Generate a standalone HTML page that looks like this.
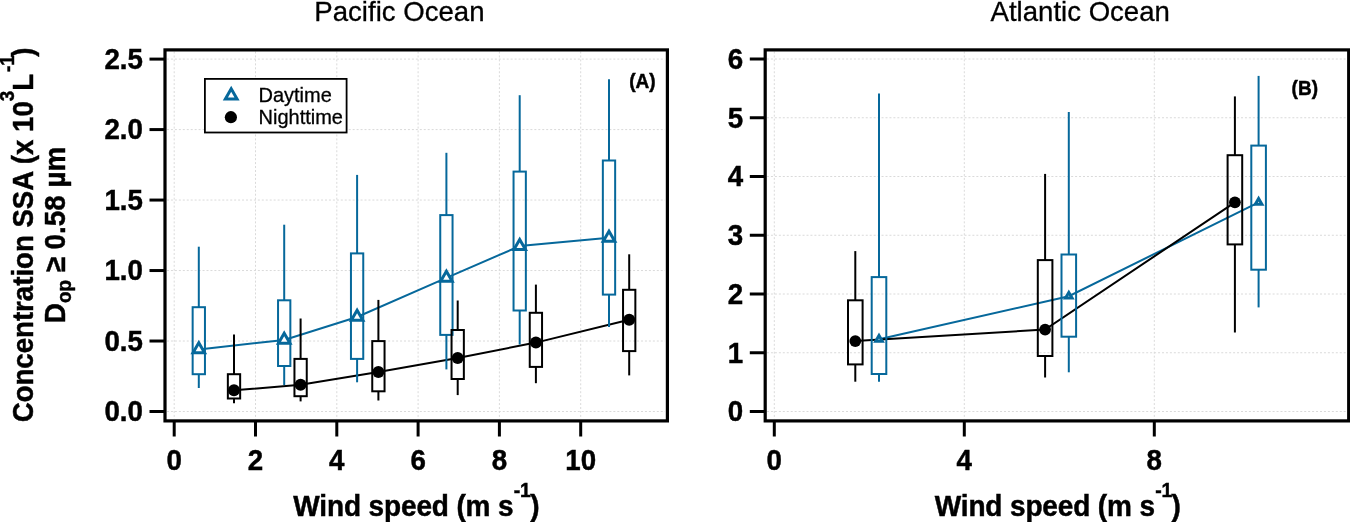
<!DOCTYPE html>
<html lang="en">
<head>
<meta charset="utf-8">
<title>Sea spray aerosol concentration vs wind speed</title>
<style>
html,body{margin:0;padding:0;background:#fff;}
body{width:1350px;height:522px;position:relative;overflow:hidden;font-family:"Liberation Sans",Arial,sans-serif;}
svg text{white-space:pre;}
</style>
</head>
<body>
<svg width="1350" height="522" viewBox="0 0 1350 522" style="display:block;position:absolute;left:0;top:0;will-change:transform">
<rect x="0" y="0" width="1350" height="522" fill="#fff"/>
<g stroke="#dadada" stroke-width="1" stroke-dasharray="2 1.95" fill="none"><line x1="174.2" y1="51.5" x2="174.2" y2="419"/><line x1="255.5" y1="51.5" x2="255.5" y2="419"/><line x1="336.8" y1="51.5" x2="336.8" y2="419"/><line x1="418.1" y1="51.5" x2="418.1" y2="419"/><line x1="499.4" y1="51.5" x2="499.4" y2="419"/><line x1="580.7" y1="51.5" x2="580.7" y2="419"/><line x1="167" y1="411.5" x2="665" y2="411.5"/><line x1="167" y1="341.02" x2="665" y2="341.02"/><line x1="167" y1="270.54" x2="665" y2="270.54"/><line x1="167" y1="200.06" x2="665" y2="200.06"/><line x1="167" y1="129.58" x2="665" y2="129.58"/><line x1="167" y1="59.1" x2="665" y2="59.1"/></g>
<polyline points="198.8,349.5 284.2,339.9 357.1,317 446.4,277.8 519.7,246.1 609,237.8" fill="none" stroke="#06689b" stroke-width="2.0"/>
<polyline points="234,390.3 300.6,384.75 378.4,372.1 457.7,357.9 535.9,342.6 629.2,319.7" fill="none" stroke="#000" stroke-width="2.0"/>
<line x1="198.8" y1="246.7" x2="198.8" y2="307.2" stroke="#06689b" stroke-width="2.0"/>
<line x1="198.8" y1="374.2" x2="198.8" y2="388" stroke="#06689b" stroke-width="2.0"/>
<rect x="192.65" y="307.2" width="12.3" height="67" fill="none" stroke="#06689b" stroke-width="2.0"/>
<line x1="284.2" y1="224.7" x2="284.2" y2="300.3" stroke="#06689b" stroke-width="2.0"/>
<line x1="284.2" y1="366" x2="284.2" y2="385.1" stroke="#06689b" stroke-width="2.0"/>
<rect x="278.05" y="300.3" width="12.3" height="65.7" fill="none" stroke="#06689b" stroke-width="2.0"/>
<line x1="357.1" y1="174.9" x2="357.1" y2="253.4" stroke="#06689b" stroke-width="2.0"/>
<line x1="357.1" y1="358.9" x2="357.1" y2="382.3" stroke="#06689b" stroke-width="2.0"/>
<rect x="350.95" y="253.4" width="12.3" height="105.5" fill="none" stroke="#06689b" stroke-width="2.0"/>
<line x1="446.4" y1="152.8" x2="446.4" y2="215.1" stroke="#06689b" stroke-width="2.0"/>
<line x1="446.4" y1="334.9" x2="446.4" y2="369.4" stroke="#06689b" stroke-width="2.0"/>
<rect x="440.25" y="215.1" width="12.3" height="119.8" fill="none" stroke="#06689b" stroke-width="2.0"/>
<line x1="519.7" y1="95.2" x2="519.7" y2="171.6" stroke="#06689b" stroke-width="2.0"/>
<line x1="519.7" y1="310.5" x2="519.7" y2="344.5" stroke="#06689b" stroke-width="2.0"/>
<rect x="513.55" y="171.6" width="12.3" height="138.9" fill="none" stroke="#06689b" stroke-width="2.0"/>
<line x1="609" y1="79.3" x2="609" y2="160.5" stroke="#06689b" stroke-width="2.0"/>
<line x1="609" y1="294.6" x2="609" y2="327.1" stroke="#06689b" stroke-width="2.0"/>
<rect x="602.85" y="160.5" width="12.3" height="134.1" fill="none" stroke="#06689b" stroke-width="2.0"/>
<line x1="234" y1="334.4" x2="234" y2="374.2" stroke="#000" stroke-width="2.0"/>
<line x1="234" y1="398.5" x2="234" y2="403.3" stroke="#000" stroke-width="2.0"/>
<rect x="227.85" y="374.2" width="12.3" height="24.3" fill="none" stroke="#000" stroke-width="2.0"/>
<line x1="300.6" y1="318.5" x2="300.6" y2="358.9" stroke="#000" stroke-width="2.0"/>
<line x1="300.6" y1="396.2" x2="300.6" y2="401.4" stroke="#000" stroke-width="2.0"/>
<rect x="294.45" y="358.9" width="12.3" height="37.3" fill="none" stroke="#000" stroke-width="2.0"/>
<line x1="378.4" y1="299.9" x2="378.4" y2="341.1" stroke="#000" stroke-width="2.0"/>
<line x1="378.4" y1="391.3" x2="378.4" y2="400.5" stroke="#000" stroke-width="2.0"/>
<rect x="372.25" y="341.1" width="12.3" height="50.2" fill="none" stroke="#000" stroke-width="2.0"/>
<line x1="457.7" y1="300.5" x2="457.7" y2="330" stroke="#000" stroke-width="2.0"/>
<line x1="457.7" y1="379" x2="457.7" y2="395.1" stroke="#000" stroke-width="2.0"/>
<rect x="451.55" y="330" width="12.3" height="49" fill="none" stroke="#000" stroke-width="2.0"/>
<line x1="535.9" y1="284.6" x2="535.9" y2="312.8" stroke="#000" stroke-width="2.0"/>
<line x1="535.9" y1="366.9" x2="535.9" y2="383.2" stroke="#000" stroke-width="2.0"/>
<rect x="529.75" y="312.8" width="12.3" height="54.1" fill="none" stroke="#000" stroke-width="2.0"/>
<line x1="629.2" y1="254.3" x2="629.2" y2="289.8" stroke="#000" stroke-width="2.0"/>
<line x1="629.2" y1="351.1" x2="629.2" y2="375.4" stroke="#000" stroke-width="2.0"/>
<rect x="623.05" y="289.8" width="12.3" height="61.3" fill="none" stroke="#000" stroke-width="2.0"/>
<polygon points="198.8,342.83 193.03,352.83 204.57,352.83" fill="#fff" stroke="#06689b" stroke-width="3.0" stroke-linejoin="miter"/>
<polygon points="284.2,333.23 278.43,343.23 289.97,343.23" fill="#fff" stroke="#06689b" stroke-width="3.0" stroke-linejoin="miter"/>
<polygon points="357.1,310.33 351.33,320.33 362.87,320.33" fill="#fff" stroke="#06689b" stroke-width="3.0" stroke-linejoin="miter"/>
<polygon points="446.4,271.13 440.63,281.13 452.17,281.13" fill="#fff" stroke="#06689b" stroke-width="3.0" stroke-linejoin="miter"/>
<polygon points="519.7,239.43 513.93,249.43 525.47,249.43" fill="#fff" stroke="#06689b" stroke-width="3.0" stroke-linejoin="miter"/>
<polygon points="609,231.13 603.23,241.13 614.77,241.13" fill="#fff" stroke="#06689b" stroke-width="3.0" stroke-linejoin="miter"/>
<circle cx="234" cy="390.3" r="6" fill="#000"/>
<circle cx="300.6" cy="384.75" r="6" fill="#000"/>
<circle cx="378.4" cy="372.1" r="6" fill="#000"/>
<circle cx="457.7" cy="357.9" r="6" fill="#000"/>
<circle cx="535.9" cy="342.6" r="6" fill="#000"/>
<circle cx="629.2" cy="319.7" r="6" fill="#000"/>
<rect x="165.0" y="49.9" width="502.4" height="371" fill="none" stroke="#000" stroke-width="3.2"/>
<g stroke="#000" stroke-width="3"><line x1="149.5" y1="411.5" x2="164.5" y2="411.5"/><line x1="149.5" y1="341.02" x2="164.5" y2="341.02"/><line x1="149.5" y1="270.54" x2="164.5" y2="270.54"/><line x1="149.5" y1="200.06" x2="164.5" y2="200.06"/><line x1="149.5" y1="129.58" x2="164.5" y2="129.58"/><line x1="149.5" y1="59.1" x2="164.5" y2="59.1"/><line x1="174.2" y1="421" x2="174.2" y2="436.5"/><line x1="255.5" y1="421" x2="255.5" y2="436.5"/><line x1="336.8" y1="421" x2="336.8" y2="436.5"/><line x1="418.1" y1="421" x2="418.1" y2="436.5"/><line x1="499.4" y1="421" x2="499.4" y2="436.5"/><line x1="580.7" y1="421" x2="580.7" y2="436.5"/></g>
<text transform="translate(142.9 421.4) scale(0.99 1.04)" text-anchor="end" font-family="'Liberation Sans', Arial, sans-serif" font-weight="700" font-size="28" fill="#000" stroke="#000" stroke-width="0.45">0.0</text>
<text transform="translate(142.9 350.92) scale(0.99 1.04)" text-anchor="end" font-family="'Liberation Sans', Arial, sans-serif" font-weight="700" font-size="28" fill="#000" stroke="#000" stroke-width="0.45">0.5</text>
<text transform="translate(142.9 280.44) scale(0.99 1.04)" text-anchor="end" font-family="'Liberation Sans', Arial, sans-serif" font-weight="700" font-size="28" fill="#000" stroke="#000" stroke-width="0.45">1.0</text>
<text transform="translate(142.9 209.96) scale(0.99 1.04)" text-anchor="end" font-family="'Liberation Sans', Arial, sans-serif" font-weight="700" font-size="28" fill="#000" stroke="#000" stroke-width="0.45">1.5</text>
<text transform="translate(142.9 139.48) scale(0.99 1.04)" text-anchor="end" font-family="'Liberation Sans', Arial, sans-serif" font-weight="700" font-size="28" fill="#000" stroke="#000" stroke-width="0.45">2.0</text>
<text transform="translate(142.9 69) scale(0.99 1.04)" text-anchor="end" font-family="'Liberation Sans', Arial, sans-serif" font-weight="700" font-size="28" fill="#000" stroke="#000" stroke-width="0.45">2.5</text>
<text transform="translate(174.2 470.3) scale(0.99 1.04)" text-anchor="middle" font-family="'Liberation Sans', Arial, sans-serif" font-weight="700" font-size="28" fill="#000" stroke="#000" stroke-width="0.45">0</text>
<text transform="translate(255.5 470.3) scale(0.99 1.04)" text-anchor="middle" font-family="'Liberation Sans', Arial, sans-serif" font-weight="700" font-size="28" fill="#000" stroke="#000" stroke-width="0.45">2</text>
<text transform="translate(336.8 470.3) scale(0.99 1.04)" text-anchor="middle" font-family="'Liberation Sans', Arial, sans-serif" font-weight="700" font-size="28" fill="#000" stroke="#000" stroke-width="0.45">4</text>
<text transform="translate(418.1 470.3) scale(0.99 1.04)" text-anchor="middle" font-family="'Liberation Sans', Arial, sans-serif" font-weight="700" font-size="28" fill="#000" stroke="#000" stroke-width="0.45">6</text>
<text transform="translate(499.4 470.3) scale(0.99 1.04)" text-anchor="middle" font-family="'Liberation Sans', Arial, sans-serif" font-weight="700" font-size="28" fill="#000" stroke="#000" stroke-width="0.45">8</text>
<text transform="translate(580.7 470.3) scale(0.99 1.04)" text-anchor="middle" font-family="'Liberation Sans', Arial, sans-serif" font-weight="700" font-size="28" fill="#000" stroke="#000" stroke-width="0.45">10</text>
<rect x="204.9" y="78.9" width="141.7" height="53.6" fill="#fff" stroke="#000" stroke-width="1.8"/>
<polygon points="231.2,88.87 225.37,98.97 237.03,98.97" fill="#fff" stroke="#06689b" stroke-width="3.0" stroke-linejoin="miter"/>
<circle cx="230.9" cy="117.2" r="6.1" fill="#000"/>
<text transform="translate(258.5 101.5) scale(1 1.025)" text-anchor="start" font-family="'Liberation Sans', Arial, sans-serif" font-weight="400" font-size="20" fill="#000" stroke="#000" stroke-width="0.3">Daytime</text>
<text transform="translate(258.5 123.6) scale(1 1.025)" text-anchor="start" font-family="'Liberation Sans', Arial, sans-serif" font-weight="400" font-size="20" fill="#000" stroke="#000" stroke-width="0.3">Nighttime</text>
<text transform="translate(642.4 88.3) scale(1 1.04)" text-anchor="middle" font-family="'Liberation Sans', Arial, sans-serif" font-weight="700" font-size="19" fill="#000" stroke="#000" stroke-width="0.45">(A)</text>
<g stroke="#dadada" stroke-width="1" stroke-dasharray="2 1.95" fill="none"><line x1="774.3" y1="51.5" x2="774.3" y2="419"/><line x1="964.3" y1="51.5" x2="964.3" y2="419"/><line x1="1154.3" y1="51.5" x2="1154.3" y2="419"/><line x1="767" y1="411.5" x2="1347" y2="411.5"/><line x1="767" y1="352.75" x2="1347" y2="352.75"/><line x1="767" y1="294" x2="1347" y2="294"/><line x1="767" y1="235.25" x2="1347" y2="235.25"/><line x1="767" y1="176.5" x2="1347" y2="176.5"/><line x1="767" y1="117.75" x2="1347" y2="117.75"/><line x1="767" y1="59" x2="1347" y2="59"/></g>
<polyline points="879,339.3 1068.8,296.2 1258.6,202.4" fill="none" stroke="#06689b" stroke-width="2.0"/>
<polyline points="855.3,341.1 1045.1,329.6 1234.9,202.3" fill="none" stroke="#000" stroke-width="2.0"/>
<line x1="855.3" y1="251.1" x2="855.3" y2="300.3" stroke="#000" stroke-width="2.0"/>
<line x1="855.3" y1="364.4" x2="855.3" y2="381.7" stroke="#000" stroke-width="2.0"/>
<rect x="848" y="300.3" width="14.6" height="64.1" fill="none" stroke="#000" stroke-width="2.0"/>
<line x1="1045.1" y1="173.9" x2="1045.1" y2="260.1" stroke="#000" stroke-width="2.0"/>
<line x1="1045.1" y1="356" x2="1045.1" y2="377.5" stroke="#000" stroke-width="2.0"/>
<rect x="1037.8" y="260.1" width="14.6" height="95.9" fill="none" stroke="#000" stroke-width="2.0"/>
<line x1="1234.9" y1="96.4" x2="1234.9" y2="155.2" stroke="#000" stroke-width="2.0"/>
<line x1="1234.9" y1="244.4" x2="1234.9" y2="332.5" stroke="#000" stroke-width="2.0"/>
<rect x="1227.6" y="155.2" width="14.6" height="89.2" fill="none" stroke="#000" stroke-width="2.0"/>
<polygon points="879,335.5 875.71,341.2 882.29,341.2" fill="#fff" stroke="#06689b" stroke-width="3.0" stroke-linejoin="miter"/>
<polygon points="1068.8,292.4 1065.51,298.1 1072.09,298.1" fill="#fff" stroke="#06689b" stroke-width="3.0" stroke-linejoin="miter"/>
<polygon points="1258.6,198.6 1255.31,204.3 1261.89,204.3" fill="#fff" stroke="#06689b" stroke-width="3.0" stroke-linejoin="miter"/>
<line x1="879" y1="93.6" x2="879" y2="277.1" stroke="#06689b" stroke-width="2.0"/>
<line x1="879" y1="374" x2="879" y2="381.7" stroke="#06689b" stroke-width="2.0"/>
<rect x="871.7" y="277.1" width="14.6" height="96.9" fill="none" stroke="#06689b" stroke-width="2.0"/>
<line x1="1068.8" y1="112" x2="1068.8" y2="254.5" stroke="#06689b" stroke-width="2.0"/>
<line x1="1068.8" y1="336.7" x2="1068.8" y2="372.3" stroke="#06689b" stroke-width="2.0"/>
<rect x="1061.5" y="254.5" width="14.6" height="82.2" fill="none" stroke="#06689b" stroke-width="2.0"/>
<line x1="1258.6" y1="75.9" x2="1258.6" y2="145.6" stroke="#06689b" stroke-width="2.0"/>
<line x1="1258.6" y1="269.7" x2="1258.6" y2="307.4" stroke="#06689b" stroke-width="2.0"/>
<rect x="1251.3" y="145.6" width="14.6" height="124.1" fill="none" stroke="#06689b" stroke-width="2.0"/>
<circle cx="855.3" cy="341.1" r="5.9" fill="#000"/>
<circle cx="1045.1" cy="329.6" r="5.9" fill="#000"/>
<circle cx="1234.9" cy="202.3" r="5.9" fill="#000"/>
<rect x="765.2" y="49.9" width="583.5" height="371" fill="none" stroke="#000" stroke-width="3.2"/>
<g stroke="#000" stroke-width="3"><line x1="749.8" y1="411.5" x2="764.5" y2="411.5"/><line x1="749.8" y1="352.75" x2="764.5" y2="352.75"/><line x1="749.8" y1="294" x2="764.5" y2="294"/><line x1="749.8" y1="235.25" x2="764.5" y2="235.25"/><line x1="749.8" y1="176.5" x2="764.5" y2="176.5"/><line x1="749.8" y1="117.75" x2="764.5" y2="117.75"/><line x1="749.8" y1="59" x2="764.5" y2="59"/><line x1="774.3" y1="421" x2="774.3" y2="436.5"/><line x1="964.3" y1="421" x2="964.3" y2="436.5"/><line x1="1154.3" y1="421" x2="1154.3" y2="436.5"/></g>
<text transform="translate(743.2 421.4) scale(0.99 1.04)" text-anchor="end" font-family="'Liberation Sans', Arial, sans-serif" font-weight="700" font-size="28" fill="#000" stroke="#000" stroke-width="0.45">0</text>
<text transform="translate(743.2 362.65) scale(0.99 1.04)" text-anchor="end" font-family="'Liberation Sans', Arial, sans-serif" font-weight="700" font-size="28" fill="#000" stroke="#000" stroke-width="0.45">1</text>
<text transform="translate(743.2 303.9) scale(0.99 1.04)" text-anchor="end" font-family="'Liberation Sans', Arial, sans-serif" font-weight="700" font-size="28" fill="#000" stroke="#000" stroke-width="0.45">2</text>
<text transform="translate(743.2 245.15) scale(0.99 1.04)" text-anchor="end" font-family="'Liberation Sans', Arial, sans-serif" font-weight="700" font-size="28" fill="#000" stroke="#000" stroke-width="0.45">3</text>
<text transform="translate(743.2 186.4) scale(0.99 1.04)" text-anchor="end" font-family="'Liberation Sans', Arial, sans-serif" font-weight="700" font-size="28" fill="#000" stroke="#000" stroke-width="0.45">4</text>
<text transform="translate(743.2 127.65) scale(0.99 1.04)" text-anchor="end" font-family="'Liberation Sans', Arial, sans-serif" font-weight="700" font-size="28" fill="#000" stroke="#000" stroke-width="0.45">5</text>
<text transform="translate(743.2 68.9) scale(0.99 1.04)" text-anchor="end" font-family="'Liberation Sans', Arial, sans-serif" font-weight="700" font-size="28" fill="#000" stroke="#000" stroke-width="0.45">6</text>
<text transform="translate(774.3 470.3) scale(0.99 1.04)" text-anchor="middle" font-family="'Liberation Sans', Arial, sans-serif" font-weight="700" font-size="28" fill="#000" stroke="#000" stroke-width="0.45">0</text>
<text transform="translate(964.3 470.3) scale(0.99 1.04)" text-anchor="middle" font-family="'Liberation Sans', Arial, sans-serif" font-weight="700" font-size="28" fill="#000" stroke="#000" stroke-width="0.45">4</text>
<text transform="translate(1154.3 470.3) scale(0.99 1.04)" text-anchor="middle" font-family="'Liberation Sans', Arial, sans-serif" font-weight="700" font-size="28" fill="#000" stroke="#000" stroke-width="0.45">8</text>
<text transform="translate(1304.8 94.5) scale(1 1.04)" text-anchor="middle" font-family="'Liberation Sans', Arial, sans-serif" font-weight="700" font-size="19" fill="#000" stroke="#000" stroke-width="0.45">(B)</text>
<text transform="translate(399.4 20.7) scale(1 1.03)" text-anchor="middle" font-family="'Liberation Sans', Arial, sans-serif" font-weight="400" font-size="27.6" fill="#000" stroke="#000" stroke-width="0.3">Pacific Ocean</text>
<text transform="translate(1080.2 20.7) scale(1 1.03)" text-anchor="middle" font-family="'Liberation Sans', Arial, sans-serif" font-weight="400" font-size="27.6" fill="#000" stroke="#000" stroke-width="0.3">Atlantic Ocean</text>
<text transform="translate(293.3 515.9) scale(1 1.03)" text-anchor="start" font-family="'Liberation Sans', Arial, sans-serif" font-weight="700" font-size="28" fill="#000" stroke="#000" stroke-width="0.45" letter-spacing="-0.13">Wind speed (m s<tspan dy="-18.6" dx="0.3" font-size="19.5">-1</tspan><tspan dy="18.6" dx="-0.6">)</tspan></text>
<text transform="translate(934.7 515.9) scale(1 1.03)" text-anchor="start" font-family="'Liberation Sans', Arial, sans-serif" font-weight="700" font-size="28" fill="#000" stroke="#000" stroke-width="0.45" letter-spacing="-0.13">Wind speed (m s<tspan dy="-18.6" dx="0.3" font-size="19.5">-1</tspan><tspan dy="18.6" dx="-0.6">)</tspan></text>
<g font-family="'Liberation Sans', Arial, sans-serif" font-weight="700" font-size="29.5" fill="#000" stroke="#000" stroke-width="0.45"><text transform="translate(33.3 422.3) rotate(-90) scale(0.936 1)">Concentration SSA (x 10<tspan dy="-19.8" font-size="20">3</tspan><tspan dy="19.8">L</tspan><tspan dy="-19.8" dx="2" font-size="20">-1</tspan><tspan dy="19.8" dx="-1.5">)</tspan></text><text transform="translate(65.3 323.2) rotate(-90) scale(0.943 1)">D<tspan dy="5.8" font-size="20">op</tspan><tspan dy="-5.8"> ≥ 0.58 µm</tspan></text></g>
</svg>
</body>
</html>
